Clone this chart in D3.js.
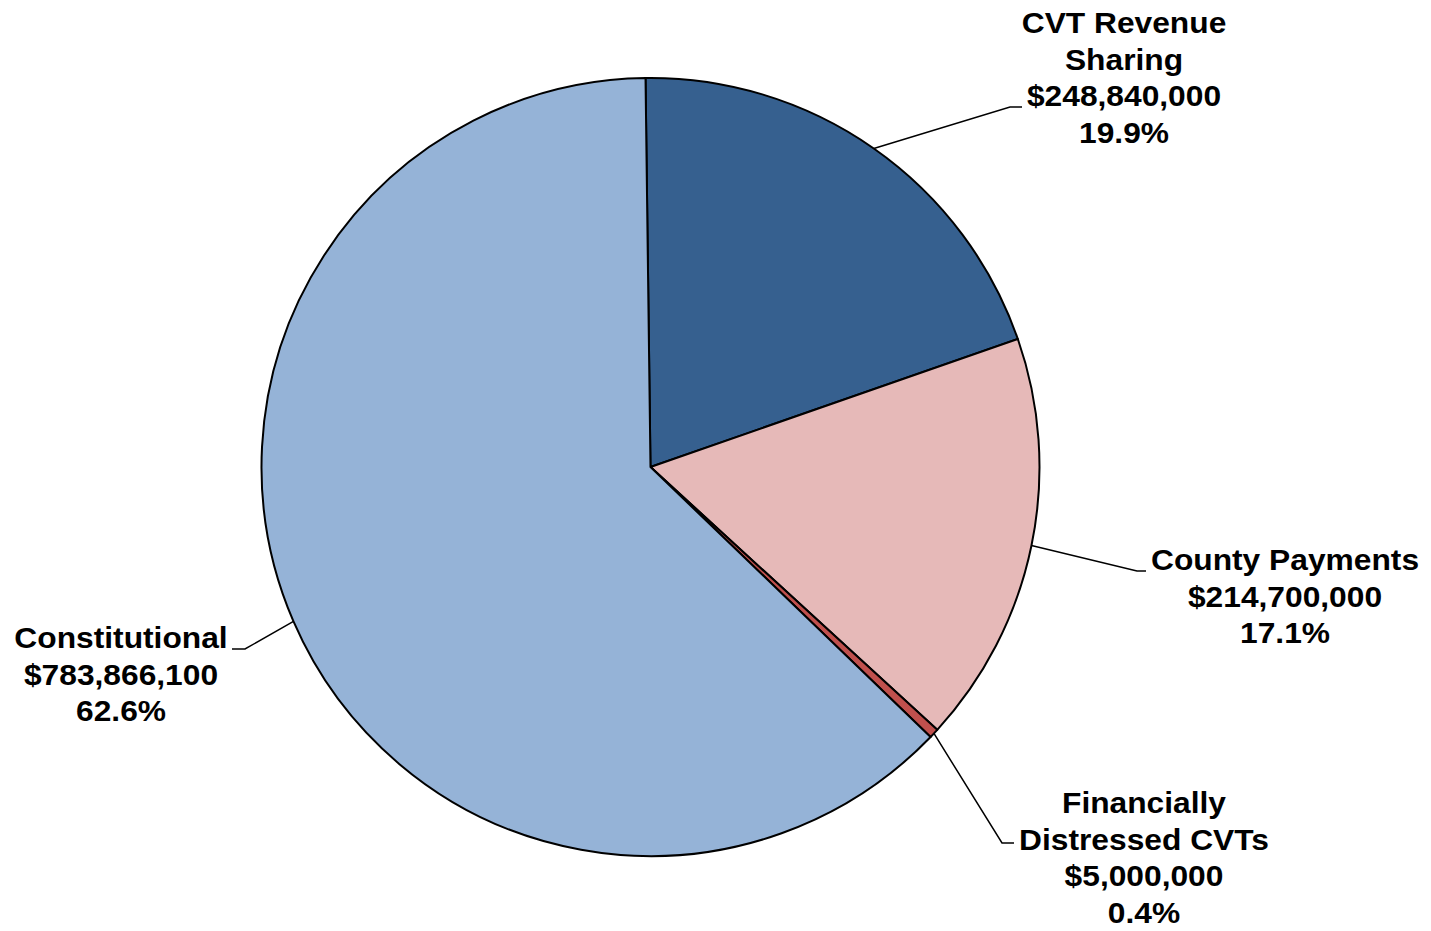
<!DOCTYPE html>
<html>
<head>
<meta charset="utf-8">
<script src="https://cdn.jsdelivr.net/npm/d3@7"></script>
<style>
  html, body { margin: 0; padding: 0; background: #ffffff; }
  svg { display: block; }
  text { font-family: "Liberation Sans", Arial, sans-serif; font-weight: bold; fill: #000; }
</style>
</head>
<body>
<svg id="chart" width="1431" height="931"></svg>
<script>
// Revenue sources, listed clockwise from 12 o'clock
const categories = ["CVT Revenue Sharing", "County Payments", "Financially Distressed CVTs", "Constitutional"];
const values = [248840000, 214700000, 5000000, 783866100];
const colors = ["#36608F", "#E6B9B8", "#C0504D", "#95B3D7"];
// Label text lines (name split as shown)
const nameLines = [["CVT Revenue", "Sharing"], ["County Payments"], ["Financially", "Distressed CVTs"], ["Constitutional"]];

const width = 1431, height = 931;
const cx = 650.5, cy = 467, radius = 389;
const startOffset = -0.0128; // slight counter-clockwise rotation of the first slice
const textStretch = 1.095;   // labels are set slightly wide

// Label layout: centre x of text block, y of first line, and elbow/end of the leader
const labelLayout = [
  { x: 1124, y: 23, elbow: [1010, 107], end: [1022, 107] },
  { x: 1285, y: 560, elbow: [1137, 571], end: [1146, 571] },
  { x: 1144, y: 803, elbow: [1002, 843], end: [1014, 843] },
  { x: 121, y: 638, elbow: [245, 649], end: [232, 649] }
];
const lineHeight = 36.6;

const svg = d3.select("#chart");
const g = svg.append("g").attr("transform", `translate(${cx},${cy})`);

const total = d3.sum(values);
const data = categories.map((c, i) => ({ name: c, value: values[i], color: colors[i], lines: nameLines[i], layout: labelLayout[i] }));

const pie = d3.pie()
  .value(d => d.value)
  .sort(null)
  .startAngle(startOffset)
  .endAngle(2 * Math.PI + startOffset);

const arc = d3.arc().innerRadius(0).outerRadius(radius);
const arcs = pie(data);

g.selectAll("path.slice")
  .data(arcs)
  .join("path")
  .attr("class", "slice")
  .attr("d", arc)
  .attr("fill", d => d.data.color)
  .attr("stroke", "#000")
  .attr("stroke-width", 2)
  .attr("stroke-linejoin", "round");

const money = d3.format("$,.0f");
const pct = v => d3.format(".1f")(v / total * 100) + "%";

// Leader lines from slice edge to label
const leaders = svg.append("g");
arcs.forEach(a => {
  const mid = (a.startAngle + a.endAngle) / 2;
  const px = cx + radius * Math.sin(mid);
  const py = cy - radius * Math.cos(mid);
  const L = a.data.layout;
  leaders.append("polyline")
    .attr("points", [[px, py], L.elbow, L.end].map(p => p.join(",")).join(" "))
    .attr("fill", "none")
    .attr("stroke", "#000")
    .attr("stroke-width", 1.5);
});

// Labels
const labels = svg.append("g");
arcs.forEach(a => {
  const L = a.data.layout;
  const lines = [...a.data.lines, money(a.data.value), pct(a.data.value)];
  const t = labels.append("text")
    .attr("text-anchor", "middle")
    .attr("font-size", 29)
    .attr("transform", `translate(${L.x},0) scale(${textStretch},1)`);
  lines.forEach((s, i) => {
    t.append("tspan")
      .attr("x", 0)
      .attr("y", L.y + i * lineHeight)
      .attr("dy", "0.35em")
      .text(s);
  });
});
</script>
</body>
</html>
